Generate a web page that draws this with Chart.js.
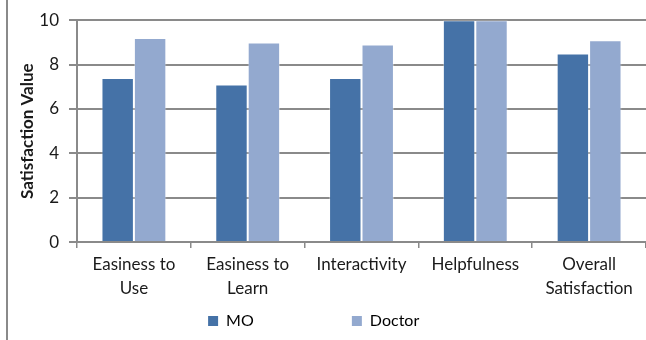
<!DOCTYPE html>
<html>
<head>
<meta charset="utf-8">
<script src="https://cdn.jsdelivr.net/npm/chart.js@4/dist/chart.umd.min.js"></script>
<style>
  html, body { margin: 0; padding: 0; background: #fff; }
  #wrap { width: 646px; height: 340px; position: relative; }
</style>
</head>
<body>
<div id="wrap"><canvas id="chart"></canvas></div>
<script>
const categories = [
  ["Easiness to", "Use"],
  ["Easiness to", "Learn"],
  "Interactivity",
  "Helpfulness",
  ["Overall", "Satisfaction"]
]
const mo_values = [7.4, 7.1, 7.4, 10, 8.5]
const doctor_values = [9.2, 9.0, 8.9, 10, 9.1]
const y_ticks = [0, 2, 4, 6, 8, 10]

const font_family = "Lato, 'Open Sans', sans-serif"

// grey frame line on the left side of the picture
const frameLine = {
  id: "frameLine",
  afterDraw(chart) {
    const ctx = chart.ctx
    ctx.save()
    ctx.strokeStyle = "#8a8a8a"
    ctx.lineWidth = 2
    ctx.beginPath()
    ctx.moveTo(7, 0)
    ctx.lineTo(7, 340)
    ctx.stroke()
    ctx.restore()
  }
}

const ctx = document.getElementById("chart").getContext("2d")

new Chart(ctx, {
  type: "bar",
  data: {
    labels: categories,
    datasets: [
      {
        label: "MO",
        data: mo_values,
        backgroundColor: "#4572A7",
        borderColor: "rgba(255,255,255,0.35)",
        borderWidth: 1,
        categoryPercentage: 0.57,
        barPercentage: 1
      },
      {
        label: "Doctor",
        data: doctor_values,
        backgroundColor: "#93A9CF",
        borderColor: "rgba(255,255,255,0.35)",
        borderWidth: 1,
        categoryPercentage: 0.57,
        barPercentage: 1
      }
    ]
  },
  options: {
    responsive: true,
    maintainAspectRatio: false,
    animation: false,
    layout: {
      padding: { left: 10, right: 0, top: 12, bottom: 1 }
    },
    plugins: {
      tooltip: { enabled: false },
      legend: {
        position: "bottom",
        labels: {
          boxWidth: 10,
          boxHeight: 10,
          padding: 8,
          color: "#1a1a1a",
          font: { family: font_family, size: 16 },
          generateLabels(chart) {
            // spaces keep the two legend entries far apart like the original
            return chart.data.datasets.map((ds, i) => ({
              text: ds.label + (i === 0 ? "                      " : "       "),
              fillStyle: ds.backgroundColor,
              strokeStyle: ds.backgroundColor,
              lineWidth: 0,
              datasetIndex: i
            }))
          }
        }
      }
    },
    scales: {
      x: {
        grid: {
          offset: true,
          drawOnChartArea: false,
          color: "#8a8a8a",
          lineWidth: 1.5,
          tickLength: 6
        },
        border: { color: "#8a8a8a", width: 2 },
        ticks: {
          color: "#1a1a1a",
          padding: 5,
          maxRotation: 0,
          autoSkip: false,
          font: { family: font_family, size: 17, lineHeight: 1.38 }
        }
      },
      y: {
        min: 0,
        max: 10,
        afterBuildTicks(scale) {
          scale.ticks = y_ticks.map(v => ({ value: v }))
        },
        afterFit(scale) {
          scale.width = 67
        },
        grid: {
          color: "#8a8a8a",
          lineWidth: 2,
          tickLength: 8
        },
        border: { color: "#8a8a8a", width: 2 },
        ticks: {
          color: "#1a1a1a",
          padding: 10,
          font: { family: font_family, size: 17 }
        },
        title: {
          display: true,
          text: "Satisfaction Value",
          color: "#1a1a1a",
          padding: { top: 7, bottom: 0 },
          font: { family: font_family, size: 17, weight: "bold" }
        }
      }
    }
  },
  plugins: [frameLine]
})
</script>
</body>
</html>
